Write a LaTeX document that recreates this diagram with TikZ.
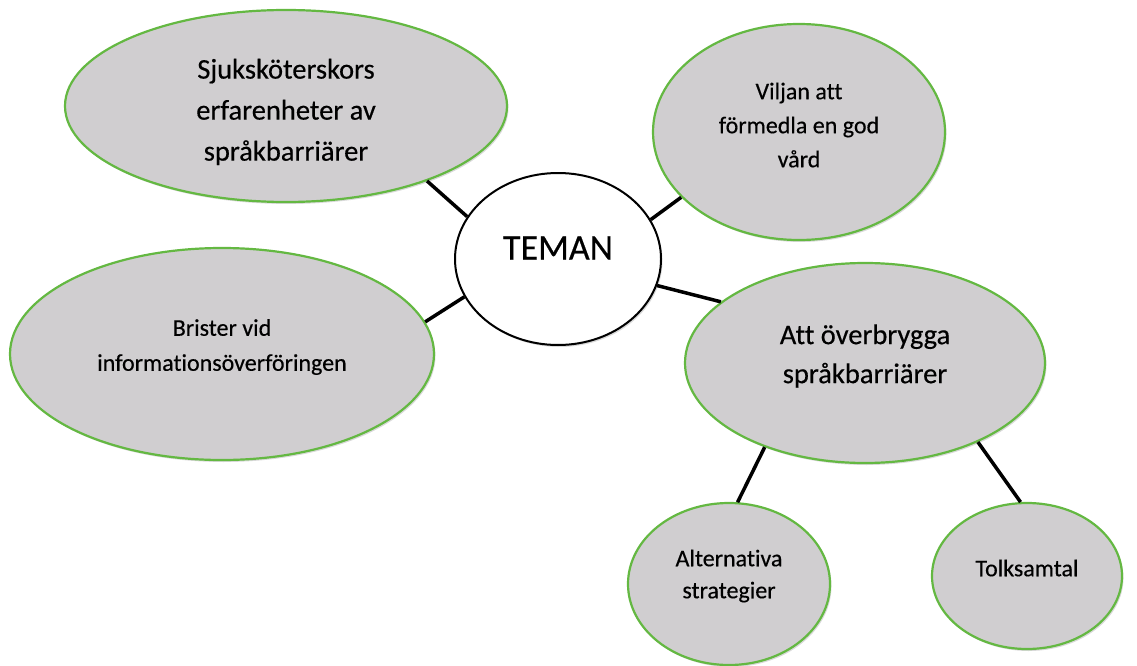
\documentclass[tikz,border=0pt]{standalone}
\usepackage{fontspec}
\setmainfont[Ligatures={NoCommon,NoContextual},FakeBold=0.4]{Carlito}
\usetikzlibrary{shapes.geometric,shadows,calc}
\definecolor{bubblefill}{RGB}{208,206,208}
\definecolor{bubbleline}{RGB}{100,184,66}
\tikzset{
  bubble/.style={ellipse, draw=bubbleline, line width=2.2pt, fill=bubblefill, inner sep=0pt,
    drop shadow={shadow xshift=1.5pt, shadow yshift=-2pt, opacity=0.3}},
  center/.style={ellipse, draw=black, line width=2pt, fill=white, inner sep=0pt,
    drop shadow={shadow xshift=1.5pt, shadow yshift=-2pt, opacity=0.3}},
  txt/.style={align=center, text=black, inner sep=0pt},
  link/.style={draw=black, line width=3.5pt}
}
\begin{document}
\begin{tikzpicture}[x=1pt,y=-1pt]
\useasboundingbox (0,0) rectangle (1137,666);
% ellipses
\node[bubble, minimum width=442, minimum height=192] (e1) at (286,106) {};
\node[bubble, minimum width=292, minimum height=216] (e2) at (799,132) {};
\node[center, minimum width=206, minimum height=172] (tm) at (558,259) {};
\node[bubble, minimum width=424, minimum height=212] (e4) at (222,354) {};
\node[bubble, minimum width=360, minimum height=200] (e5) at (865,363) {};
\node[bubble, minimum width=202, minimum height=162] (e6) at (729,584) {};
\node[bubble, minimum width=190, minimum height=146] (e7) at (1027,576) {};
% texts
\node[txt, font={\fontsize{28.5}{41}\selectfont}] (t1) at ($(e1)+(0,6)$) {Sjuksköterskors\\erfarenheter av\\språkbarriärer};
\node[txt, font={\fontsize{24}{34}\selectfont}] (t2) at ($(e2)+(0,-7)$) {Viljan att\\förmedla en god\\vård};
\node[txt, font={\fontsize{36}{40}\selectfont}] (t3) at ($(tm)+(0,-11)$) {TEMAN};
\node[txt, font={\fontsize{24}{35}\selectfont}] (t4) at ($(e4)+(0,-7)$) {Brister vid\\informationsöverföringen};
\node[txt, font={\fontsize{28.5}{39}\selectfont}] (t5) at ($(e5)+(0,-7)$) {Att överbrygga\\språkbarriärer};
\node[txt, font={\fontsize{24}{32}\selectfont}] (t6) at ($(e6)+(0,-8)$) {Alternativa\\strategier};
\node[txt, font={\fontsize{24}{32}\selectfont}] (t7) at ($(e7)+(0,-8)$) {Tolksamtal};
% connectors
\draw[link] (e1.-28.3) -- (tm.155);
\draw[link] (tm.23.6) -- (e2.-151.4);
\draw[link] (tm.202.2) -- (e4.9.5);
\draw[link] (tm.-15.1) -- (e5.157.2);
\draw[link] (e5.220.5) -- (e6.84.4);
\draw[link] (e5.-35.9) -- (e7.95.5);
\end{tikzpicture}
\end{document}
